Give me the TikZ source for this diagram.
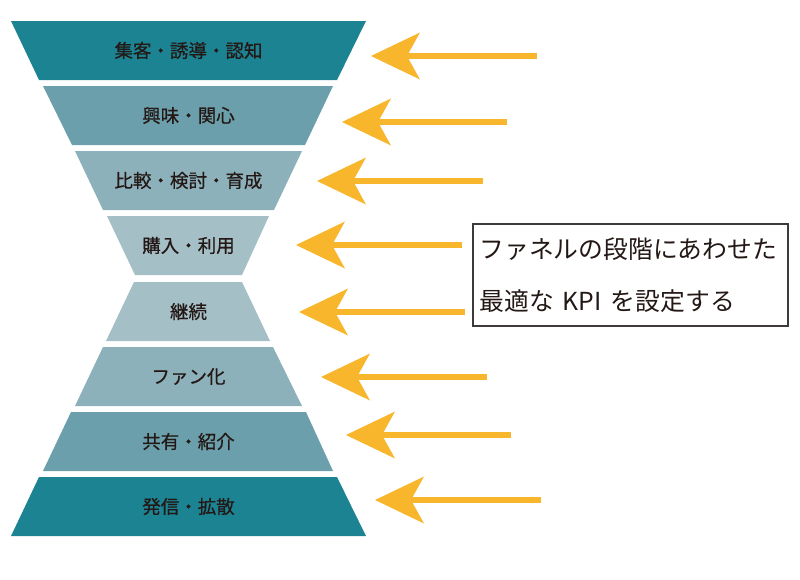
\documentclass[tikz,border=0pt]{standalone}
\usepackage{fontspec}
\newfontfamily\jpfont{Noto Sans CJK JP}
\newfontfamily\jpmed[FakeBold=0.6]{Noto Sans CJK JP}
\usetikzlibrary{arrows.meta}
\definecolor{tealdeep}{HTML}{1C8392}
\definecolor{tealmid}{HTML}{6B9FAB}
\definecolor{teallight}{HTML}{8DB1BB}
\definecolor{tealpale}{HTML}{A5BFC7}
\definecolor{inkdark}{HTML}{231815}
\definecolor{kpigold}{HTML}{F8B62D}
\definecolor{boxline}{HTML}{3E3A39}
\tikzset{
  bandlabel/.style={text=inkdark, inner sep=0pt, font=\jpmed\fontsize{18.5}{22}\selectfont},
  kpiarr/.style={-{Stealth[length=49pt, width=47pt, inset=13pt, line width=0pt]},
                 line width=6pt, color=kpigold},
  kpibox/.style={draw=boxline, line width=1.3pt, fill=white, text=inkdark, align=left,
                 text width=302pt, inner xsep=6.5pt, minimum height=102pt,
                 font=\jpfont\fontsize{24.8}{52}\selectfont}}

\begin{document}
\begin{tikzpicture}[x=1pt, y=-1pt]
  \useasboundingbox (0,0) rectangle (800,579);
  % funnel bands, top half narrowing, bottom half widening
  \fill[tealdeep]  (11,21)  -- (366,21)  -- (337,80)  -- (39,80)  -- cycle;
  \fill[tealmid]   (43,86)  -- (333,86)  -- (305,145) -- (72,145) -- cycle;
  \fill[teallight] (75,151) -- (302,151) -- (274,210) -- (103,210) -- cycle;
  \fill[tealpale]  (107,216) -- (269,216) -- (242,275) -- (135,275) -- cycle;
  \fill[tealpale]  (134,282) -- (242,282) -- (270,341) -- (106,341) -- cycle;
  \fill[teallight] (103,347) -- (273,347) -- (302,406) -- (75,406) -- cycle;
  \fill[tealmid]   (71,412)  -- (306,412) -- (333,471) -- (43,471) -- cycle;
  \fill[tealdeep]  (39,477)  -- (337,477) -- (366,536) -- (11,536) -- cycle;

  \node[bandlabel] (band1) at (188.5,50.5)  {集客・誘導・認知};
  \node[bandlabel] (band2) at (188.5,115.5) {興味・関心};
  \node[bandlabel] (band3) at (188.5,180.5) {比較・検討・育成};
  \node[bandlabel] (band4) at (188.5,245.5) {購入・利用};
  \node[bandlabel] (band5) at (188.5,311.5) {継続};
  \node[bandlabel] (band6) at (188.5,376.5) {ファン化};
  \node[bandlabel] (band7) at (188.5,441.5) {共有・紹介};
  \node[bandlabel] (band8) at (188.5,506.5) {発信・拡散};

  \node[kpibox] (kpi) at (630.5,275)
    {ファネルの段階にあわせた\\最適な\hspace{9pt}KPI\hspace{9pt}を設定する};

  \foreach \i/\tx/\hx/\y in {1/537/371/56, 2/507/342/122, 3/483/317/181, 4/462/296/245,
                            5/465/299/312, 6/487/321/377, 7/511/346/435, 8/541/375/500} {
    \coordinate (tail\i) at (\tx,\y);
    \coordinate (tip\i) at (\hx,\y);
    \draw[kpiarr] (tail\i) -- (tip\i);
  }
\end{tikzpicture}
\end{document}
